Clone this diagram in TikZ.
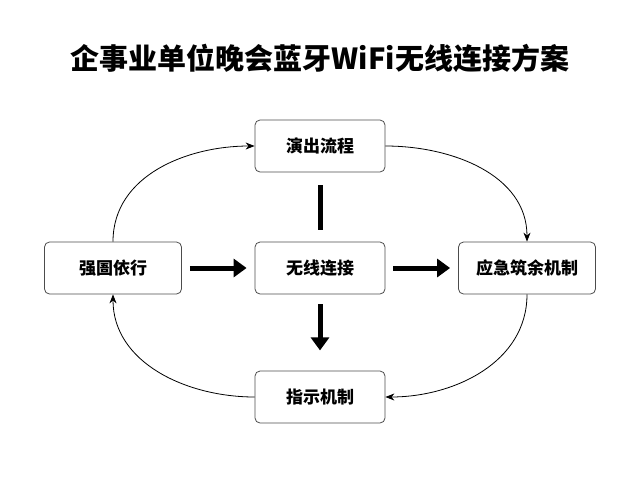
\documentclass[tikz,border=0pt]{standalone}
\usepackage{fontspec}
\setmainfont{Noto Sans CJK SC}
\usetikzlibrary{positioning, arrows.meta}
\tikzset{
  box/.style={draw=black!70, rounded corners=5pt, minimum width=130pt, minimum height=52pt, font=\fontsize{17}{20}\selectfont\bfseries, line width=0.8pt},
  loop/.style={-{Stealth[length=9pt,width=7pt]}, line width=0.8pt},
  thick arrow/.style={-{Triangle[length=13pt,width=18pt]}, line width=5pt, shorten <=8pt, shorten >=8pt}
}
\begin{document}
\begin{tikzpicture}[x=1pt,y=-1pt]
  \useasboundingbox (0,0) rectangle (640,480);
  % Title
  \node[font=\fontsize{29}{34}\selectfont\bfseries] (title) at (320,58) {企事业单位晚会蓝牙WiFi无线连接方案};
  % Boxes
  \node[box] (show) at (320,146) {演出流程};
  \node[box, minimum width=137pt] (left) at (113,268) {强圄依行};
  \node[box] (wifi) at (320,268) {无线连接};
  \node[box, minimum width=137pt] (backup) at (527,268) {应急筑余机制};
  \node[box] (guide) at (320,397) {指示机制};
  % Thick arrows
  \draw[thick arrow] (left) -- (wifi);
  \draw[thick arrow] (wifi) -- (backup);
  \coordinate (bt) at (320,185);
  \coordinate (bb) at (320,230);
  \draw[line width=5pt] (bt) -- (bb);
  \draw[thick arrow, shorten <=0pt, shorten >=0pt] (wifi.south) ++(0,10) -- ++(0,46);
  % Loop around
  \draw[loop] (left.north) to[out=90,in=180] (show.west);
  \draw[loop] (show.east) to[out=0,in=90] (backup.north);
  \draw[loop] (backup.south) to[out=-90,in=0] (guide.east);
  \draw[loop] (guide.west) to[out=180,in=-90] (left.south);
\end{tikzpicture}
\end{document}
